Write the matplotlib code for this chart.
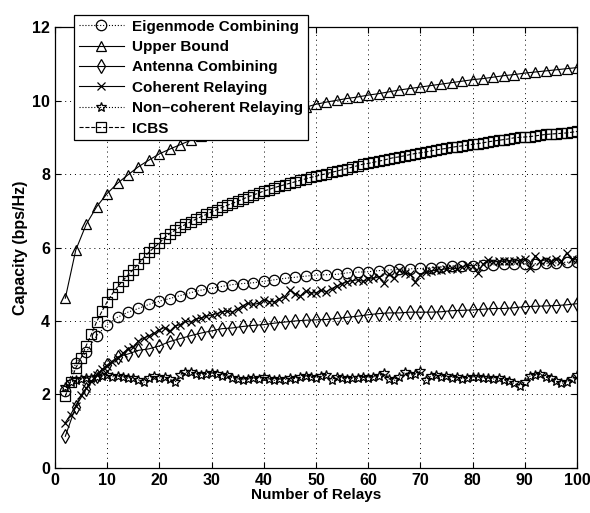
"""Capacity vs number of relays: six schemes, MATLAB-style figure."""
import matplotlib
matplotlib.use("Agg")
import matplotlib.pyplot as plt
import numpy as np

plt.rcParams["font.family"] = ["Liberation Sans", "DejaVu Sans"]
plt.rcParams["font.weight"] = "bold"

# relays 2..100 for dense series, 2,4,..,100 for sparse ones
x_dense = np.arange(2, 101)
x_sparse = np.arange(2, 101, 2)

eigenmode = [2.1, 2.85, 3.15, 3.6, 3.9, 4.1, 4.24, 4.34, 4.45, 4.54,
             4.61, 4.69, 4.77, 4.84, 4.89, 4.94, 4.99, 5.02, 5.04, 5.08,
             5.12, 5.16, 5.19, 5.22, 5.25, 5.26, 5.27, 5.31, 5.33, 5.34,
             5.37, 5.39, 5.41, 5.42, 5.43, 5.45, 5.47, 5.49, 5.5, 5.51,
             5.52, 5.53, 5.54, 5.55, 5.55, 5.56, 5.57, 5.58, 5.6, 5.61]

upper_bound = [4.62, 5.93, 6.63, 7.11, 7.47, 7.75, 7.98, 8.2, 8.38, 8.55,
               8.68, 8.8, 8.92, 9.03, 9.13, 9.22, 9.3, 9.38, 9.46, 9.53,
               9.6, 9.67, 9.74, 9.82, 9.9, 9.96, 10.01, 10.06, 10.1, 10.15,
               10.19, 10.24, 10.29, 10.33, 10.37, 10.41, 10.45, 10.49, 10.53, 10.57,
               10.6, 10.64, 10.68, 10.71, 10.75, 10.78, 10.81, 10.84, 10.87, 10.9]

antenna = [0.86, 1.67, 2.15, 2.5, 2.8, 3.02, 3.1, 3.2, 3.24, 3.32,
           3.44, 3.52, 3.6, 3.67, 3.73, 3.79, 3.81, 3.85, 3.88, 3.9,
           3.94, 3.97, 4.0, 4.02, 4.03, 4.04, 4.07, 4.1, 4.13, 4.17,
           4.2, 4.22, 4.22, 4.24, 4.24, 4.24, 4.25, 4.28, 4.29, 4.3,
           4.32, 4.34, 4.34, 4.36, 4.39, 4.4, 4.41, 4.42, 4.44, 4.47]

coherent = [1.23, 1.45, 1.69, 1.98, 2.17, 2.36, 2.53, 2.68, 2.78, 2.88,
            2.98, 3.12, 3.24, 3.3, 3.45, 3.53, 3.6, 3.66, 3.76, 3.82,
            3.72, 3.86, 3.9, 4.0, 3.97, 4.05, 4.08, 4.13, 4.16, 4.2,
            4.25, 4.27, 4.24, 4.33, 4.42, 4.48, 4.45, 4.48, 4.58, 4.53,
            4.52, 4.6, 4.66, 4.84, 4.74, 4.68, 4.82, 4.76, 4.77, 4.83,
            4.8, 4.88, 4.95, 5.02, 5.07, 5.1, 5.12, 5.08, 5.13, 5.16,
            5.2, 5.03, 5.28, 5.16, 5.38, 5.3, 5.28, 5.07, 5.25, 5.32,
            5.36, 5.38, 5.4, 5.42, 5.44, 5.42, 5.47, 5.52, 5.5, 5.3,
            5.55, 5.66, 5.6, 5.63, 5.62, 5.64, 5.62, 5.66, 5.68, 5.45,
            5.78, 5.64, 5.66, 5.6, 5.7, 5.62, 5.85, 5.7, 5.65]

noncoherent = [2.2, 2.33, 2.38, 2.42, 2.44, 2.45, 2.48, 2.5, 2.52, 2.48,
               2.5, 2.47, 2.44, 2.46, 2.4, 2.33, 2.45, 2.49, 2.45, 2.47,
               2.43, 2.33, 2.52, 2.6, 2.62, 2.55, 2.52, 2.56, 2.58, 2.55,
               2.5, 2.52, 2.45, 2.42, 2.4, 2.42, 2.45, 2.43, 2.48, 2.42,
               2.38, 2.42, 2.4, 2.45, 2.43, 2.47, 2.5, 2.47, 2.45, 2.5,
               2.52, 2.38, 2.48, 2.46, 2.42, 2.45, 2.44, 2.47, 2.45, 2.48,
               2.5, 2.58, 2.42, 2.38, 2.47, 2.6, 2.52, 2.55, 2.64, 2.38,
               2.5, 2.52, 2.48, 2.5, 2.46, 2.47, 2.43, 2.45, 2.48, 2.47,
               2.45, 2.44, 2.42, 2.44, 2.4, 2.36, 2.3, 2.24, 2.34, 2.5,
               2.53, 2.55, 2.47, 2.45, 2.36, 2.3, 2.34, 2.42, 2.52]

icbs = [1.95, 2.35, 2.72, 2.98, 3.33, 3.64, 3.98, 4.26, 4.52, 4.74,
        4.93, 5.1, 5.25, 5.4, 5.56, 5.72, 5.87, 6.0, 6.12, 6.27,
        6.38, 6.47, 6.55, 6.63, 6.7, 6.77, 6.84, 6.9, 6.97, 7.03,
        7.09, 7.15, 7.2, 7.26, 7.32, 7.38, 7.43, 7.48, 7.54, 7.58,
        7.63, 7.67, 7.71, 7.75, 7.79, 7.83, 7.87, 7.91, 7.94, 7.98,
        8.01, 8.05, 8.08, 8.12, 8.15, 8.19, 8.23, 8.27, 8.29, 8.32,
        8.35, 8.38, 8.42, 8.45, 8.47, 8.5, 8.53, 8.56, 8.58, 8.6,
        8.63, 8.66, 8.68, 8.7, 8.73, 8.75, 8.77, 8.79, 8.81, 8.83,
        8.85, 8.88, 8.9, 8.92, 8.94, 8.96, 8.99, 9.0, 9.01, 9.02,
        9.04, 9.06, 9.08, 9.09, 9.1, 9.11, 9.12, 9.14, 9.16]

fig = plt.figure(figsize=(5.9, 5.13), dpi=100)
ax = fig.add_axes([0.093, 0.088, 0.885, 0.859])

mk = dict(markerfacecolor="none", markeredgecolor="black", color="black",
          linewidth=0.8, markeredgewidth=0.9)
ax.plot(x_sparse, eigenmode, ":", marker="o", markersize=7.5, label="Eigenmode Combining", **mk)
ax.plot(x_sparse, upper_bound, "-", marker="^", markersize=7.5, label="Upper Bound", **mk)
ax.plot(x_sparse, antenna, "-", marker="d", markersize=7.5, label="Antenna Combining", **mk)
ax.plot(x_dense, coherent, "-", marker="x", markersize=6, label="Coherent Relaying", **mk)
ax.plot(x_dense, noncoherent, ":", marker="*", markersize=7.5, label="Non\u2013coherent Relaying", **mk)
ax.plot(x_dense, icbs, "--", marker="s", markersize=6.5, label="ICBS", **mk)

ax.set_xlim(0, 100)
ax.set_ylim(0, 12)
ax.set_xticks(range(0, 101, 10))
ax.set_yticks(range(0, 13, 2))
ax.tick_params(direction="in", labelsize=11.5, width=0.8, length=4, top=True, right=True)
for lbl in ax.get_xticklabels() + ax.get_yticklabels():
    lbl.set_fontweight("bold")
ax.grid(True, linestyle=(0, (1, 4)), color="black", linewidth=0.7)
for s in ax.spines.values():
    s.set_linewidth(0.9)

ax.set_xlabel("Number of Relays", fontsize=11, fontweight="bold", labelpad=0)
ax.set_ylabel("Capacity (bps/Hz)", fontsize=11.5, fontweight="bold", labelpad=3)

leg = ax.legend(loc="upper left", bbox_to_anchor=(0.022, 1.045), fontsize=11,
                frameon=True, fancybox=False, edgecolor="black", framealpha=1,
                handlelength=3.0, borderpad=0.3, labelspacing=0.42, handletextpad=0.5)
leg.get_frame().set_linewidth(0.9)
leg.set_zorder(10)
for t in leg.get_texts():
    t.set_fontweight("bold")

fig.savefig("out.png", dpi=100)
